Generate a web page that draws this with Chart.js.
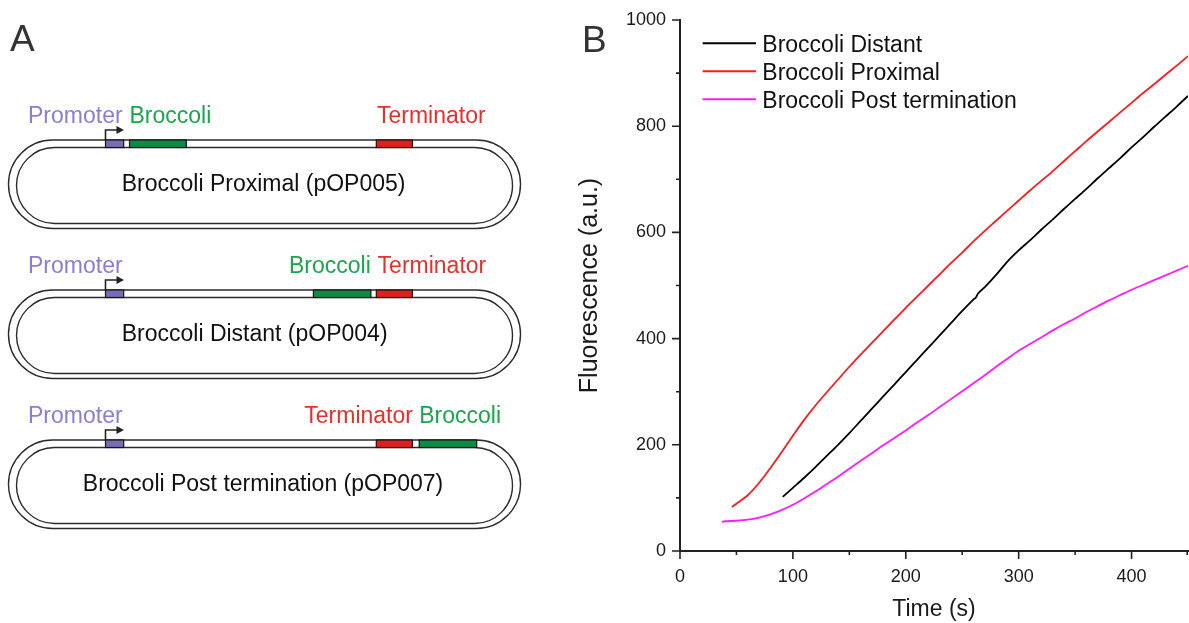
<!DOCTYPE html>
<html>
<head>
<meta charset="utf-8">
<script src="https://cdn.jsdelivr.net/npm/chart.js@4/dist/chart.umd.min.js"></script>
<style>
html,body{margin:0;padding:0;background:#fff;width:1189px;height:623px;overflow:hidden;}
#wrap{position:absolute;left:560px;top:0;width:629px;height:623px;}
#wrap canvas{display:block;}
#overlay{position:absolute;left:0;top:0;pointer-events:none;}
text{font-family:"Liberation Sans",Arial,Helvetica,sans-serif;}
</style>
</head>
<body>
<div id="wrap"><canvas id="c" width="629" height="623"></canvas></div>
<svg id="overlay" width="1189" height="623" xmlns="http://www.w3.org/2000/svg">
  <text x="10" y="50.5" font-size="37" fill="#333">A</text>
  <text x="582" y="52" font-size="37" fill="#333">B</text>
  <g id="plasmids"></g>
</svg>
<script>
// ---------- Panel B data ----------
const seriesNames = ["Broccoli Distant", "Broccoli Proximal", "Broccoli Post termination"];
const seriesColors = ["#000000", "#ff1a1a", "#ff1aff"];

const distT = [91,100,110,120,130,140,150,160,170,180,190,200,210,220,230,240,250,260,262,264,270,280,290,300,310,320,330,340,350,360,370,380,390,400,410,420,430,440,450];
const distV = [102,119,138,158,179,200,222,245,268,291,314,337,360,383,406,429,452,474,477,485,497,520,545,566,585,605,624,644,663,682,702,721,740,760,779,799,818,837,857];

const proxT = [46,50,60,70,80,90,100,110,120,130,140,150,160,170,180,190,200,210,220,230,240,250,260,270,280,290,300,310,320,330,340,350,360,370,380,390,400,410,420,430,440,450];
const proxV = [83,89,105,128,156,186,217,247,274,299,323,347,370,392,414,436,458,479,500,521,542,562,583,603,622,641,660,679,697,715,734,753,772,790,808,826,844,862,879,897,914,932];

const postT = [37,40,50,60,70,80,90,100,110,120,130,140,150,160,170,180,190,200,210,220,230,240,250,260,270,280,290,300,310,320,330,340,350,360,370,380,390,400,410,420,430,440,450];
const postV = [55,56,57,59,63,69,77,87,99,112,126,140,155,170,184,199,213,227,242,256,271,286,301,316,331,347,362,377,390,402,415,427,438,450,461,472,482,492,501,510,519,528,537];

const xTickLabels = [0,100,200,300,400];
const xMinorTicks = [50,150,250,350,450];
const yTickLabels = [0,200,400,600,800,1000];
const yMinorTicks = [100,300,500,700,900];

// ---------- Panel A (diagram) ----------
const plasmidNames = ["Broccoli Proximal (pOP005)", "Broccoli Distant (pOP004)", "Broccoli Post termination (pOP007)"];
const partColors = {
  Promoter:   {box:"#786cb4", text:"#8c7dd2"},
  Broccoli:   {box:"#0b8c46", text:"#1aa64f"},
  Terminator: {box:"#e0201f", text:"#e5302c"}
};
const plasmidLayout = [
  {nameX:121.7, parts:[["Promoter",105.5,123.7,28],["Broccoli",129.5,186.3,129.5],["Terminator",376.3,412.4,377]]},
  {nameX:121.7, parts:[["Promoter",105.5,123.7,28],["Broccoli",313.4,370.9,289],["Terminator",376.3,412.4,377.6]]},
  {nameX:82.8,  parts:[["Promoter",105.5,123.7,28],["Terminator",376.3,412.4,304.3],["Broccoli",419.2,476.7,419.2]]}
];
(function drawPanelA(){
  const NS = "http://www.w3.org/2000/svg";
  const g = document.getElementById("plasmids");
  function el(tag, attrs, txt){
    const e = document.createElementNS(NS, tag);
    for (const k in attrs) e.setAttribute(k, attrs[k]);
    if (txt !== undefined) e.textContent = txt;
    g.appendChild(e); return e;
  }
  plasmidLayout.forEach((p, i) => {
    const dy = i * 150;
    el("rect",{x:8.5,y:140+dy,width:512,height:88.5,rx:44.25,ry:44.25,fill:"none",stroke:"#2b2b2b","stroke-width":1.4});
    el("rect",{x:16.5,y:147.5+dy,width:496,height:76,rx:38,ry:38,fill:"none",stroke:"#2b2b2b","stroke-width":1.4});
    p.parts.forEach(([name,x0,x1,lx]) => {
      el("rect",{x:x0,y:140+dy,width:x1-x0,height:7.5,fill:partColors[name].box,stroke:"#151515","stroke-width":1.2});
      el("text",{x:lx,y:122.8+dy,"font-size":23,fill:partColors[name].text},name);
    });
    el("path",{d:`M105.5,${140+dy} V${130+dy} H117.5`,fill:"none",stroke:"#222","stroke-width":1.6});
    el("polygon",{points:`116.5,${126+dy} 124,${130+dy} 116.5,${134+dy}`,fill:"#222"});
    el("text",{x:p.nameX,y:191.4+dy,"font-size":23,fill:"#111"},plasmidNames[i]);
  });
})();

// ---------- Panel B chart ----------
const FONT = '"Liberation Sans", Arial, Helvetica, sans-serif';
const toPts = (t, v) => t.map((x, i) => ({x, y: v[i]}));
const noPad = s => { s.paddingTop = 0; s.paddingBottom = 0; s.paddingLeft = 0; s.paddingRight = 0; };

const tickMarks = {
  id: 'tickMarks',
  afterDraw(chart){
    const ctx = chart.ctx, xs = chart.scales.x, ys = chart.scales.y;
    const ax = xs.left, ay = ys.bottom;
    ctx.save();
    ctx.strokeStyle = '#222'; ctx.lineWidth = 1.6;
    ctx.beginPath();
    xTickLabels.forEach(v => { const p = xs.getPixelForValue(v); ctx.moveTo(p, ay); ctx.lineTo(p, ay + 8); });
    xMinorTicks.forEach(v => { const p = Math.min(xs.getPixelForValue(v), xs.right - 0.8); ctx.moveTo(p, ay); ctx.lineTo(p, ay + 4); });
    yTickLabels.forEach(v => { const p = ys.getPixelForValue(v); ctx.moveTo(ax, p); ctx.lineTo(ax - 8, p); });
    yMinorTicks.forEach(v => { const p = ys.getPixelForValue(v); ctx.moveTo(ax, p); ctx.lineTo(ax - 4, p); });
    ctx.stroke();
    // legend
    const ca = chart.chartArea;
    ctx.font = '23px ' + FONT;
    ctx.textBaseline = 'alphabetic';
    ctx.textAlign = 'left';
    chart.data.datasets.forEach((ds, i) => {
      const y = ca.top + 23.3 + i * 28;
      ctx.strokeStyle = ds.borderColor; ctx.lineWidth = 2;
      ctx.beginPath(); ctx.moveTo(ca.left + 22.7, y); ctx.lineTo(ca.left + 76, y); ctx.stroke();
      ctx.fillStyle = '#111';
      ctx.fillText(ds.label, ca.left + 82.3, y + 8.2);
    });
    ctx.restore();
  }
};

new Chart(document.getElementById('c'), {
  type: 'line',
  data: {
    datasets: [
      {label: seriesNames[0], data: toPts(distT, distV), borderColor: seriesColors[0]},
      {label: seriesNames[1], data: toPts(proxT, proxV), borderColor: seriesColors[1]},
      {label: seriesNames[2], data: toPts(postT, postV), borderColor: seriesColors[2]}
    ].map(d => Object.assign(d, {borderWidth: 1.8, pointRadius: 0, fill: false, tension: 0.3}))
  },
  options: {
    responsive: false,
    animation: false,
    layout: {padding: {left: 0, top: 20, right: 1, bottom: 0}},
    plugins: {legend: {display: false}, tooltip: {enabled: false}},
    scales: {
      x: {
        type: 'linear', min: 0, max: 450,
        afterBuildTicks: s => { s.ticks = xTickLabels.map(v => ({value: v})); },
        afterFit: s => { s.height = 72; noPad(s); },
        grid: {display: false, drawTicks: false},
        border: {display: true, color: '#222', width: 2},
        ticks: {autoSkip: false, maxRotation: 0, padding: 15, color: '#1a1a1a', font: {size: 18, family: FONT},
                callback: v => String(v)},
        title: {display: true, text: 'Time (s)', color: '#1a1a1a', font: {size: 23, family: FONT, lineHeight: 1}, padding: {top: 0, bottom: 1.5}}
      },
      y: {
        min: 0, max: 1000,
        afterBuildTicks: s => { s.ticks = yTickLabels.map(v => ({value: v})); },
        afterFit: s => { s.width = 120; noPad(s); },
        grid: {display: false, drawTicks: false},
        border: {display: true, color: '#222', width: 2},
        ticks: {autoSkip: false, padding: 14, color: '#1a1a1a', font: {size: 18, family: FONT},
                callback: v => String(v)},
        title: {display: true, text: 'Fluorescence (a.u.)', color: '#1a1a1a', font: {size: 25, family: FONT, lineHeight: 1}, padding: {top: 18, bottom: 0}}
      }
    }
  },
  plugins: [tickMarks]
});
</script>
</body>
</html>
